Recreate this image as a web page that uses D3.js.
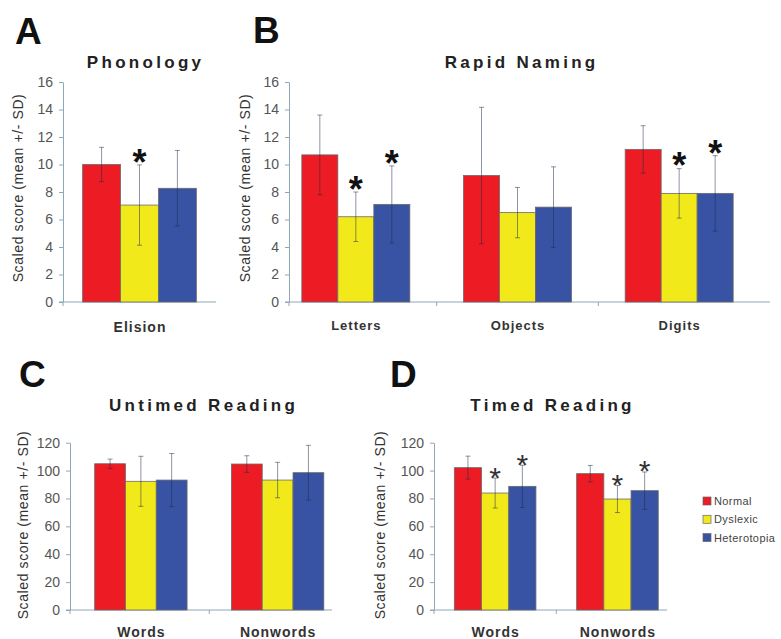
<!DOCTYPE html>
<html>
<head>
<meta charset="utf-8">
<script src="https://cdn.jsdelivr.net/npm/d3@7"></script>
<style>
  body { margin: 0; background: #fff; }
  svg { display: block; font-family: "Liberation Sans", Arial, sans-serif; }
</style>
</head>
<body>
<script>
// groups (legend)
const groups = ["Normal", "Dyslexic", "Heterotopia"];

// A - Phonology
const phonologyCats = ["Elision"];
const phonologyMeans = [[10.0, 7.05, 8.27]];
const phonologySD = [[1.25, 2.92, 2.75]];
const phonologySig = [[false, true, false]];

// B - Rapid Naming
const namingCats = ["Letters", "Objects", "Digits"];
const namingMeans = [[10.7, 6.2, 7.1], [9.2, 6.5, 6.9], [11.1, 7.9, 7.9]];
const namingSD = [[2.9, 1.8, 2.8], [4.96, 1.83, 2.93], [1.72, 1.8, 2.74]];
const namingSig = [[false, true, true], [false, false, false], [false, true, true]];

// C - Untimed Reading
const untimedCats = ["Words", "Nonwords"];
const untimedMeans = [[104.9, 92.3, 93.2], [104.7, 93.2, 98.5]];
const untimedSD = [[3.35, 17.95, 19.05], [5.95, 12.7, 19.6]];
const untimedSig = [[false, false, false], [false, false, false]];

// D - Timed Reading
const timedCats = ["Words", "Nonwords"];
const timedMeans = [[102.1, 83.9, 88.7], [97.8, 79.6, 85.6]];
const timedSD = [[8.25, 10.75, 15.15], [5.9, 9.7, 13.4]];
const timedSig = [[false, true, true], [false, true, true]];

const ticks16 = [0, 2, 4, 6, 8, 10, 12, 14, 16];
const ticks120 = [0, 20, 40, 60, 80, 100, 120];

const colors = ["#ed1c24", "#f2e91b", "#3953a4"];
const axisColor = "#8fa8b8";
const yTitle = "Scaled score (mean +/- SD)";

const svg = d3.select("body").append("svg")
    .attr("width", 781).attr("height", 639);

function drawPanel(p) {
    const g = svg.append("g");

    const y = d3.scaleLinear().domain([0, p.yMax]).range([p.y0, p.y1]);
    const x = d3.scaleBand().domain(p.cats).range(p.band).padding(0);
    const gx = d3.scaleBand().domain(groups)
        .range([-1.5 * p.barW, 1.5 * p.barW]).padding(0);

    // panel letter + title
    g.append("text").attr("x", p.letter[0]).attr("y", p.letter[1])
        .attr("font-size", 37).attr("font-weight", "bold").attr("fill", "#111")
        .text(p.letterText);
    g.append("text").attr("x", p.title[0] + 1.6).attr("y", p.title[1])
        .attr("text-anchor", "middle").attr("font-size", 17).attr("font-weight", "bold")
        .attr("letter-spacing", 3.3).attr("fill", "#222")
        .text(p.titleText);

    // y title
    g.append("text")
        .attr("transform", `translate(${p.yt[0]},${p.yt[1]}) rotate(-90)`)
        .attr("text-anchor", "middle").attr("font-size", 14)
        .attr("letter-spacing", 0.6).attr("fill", "#333")
        .text(yTitle);

    // y axis
    const yAxis = d3.axisLeft(y).tickValues(p.ticks).tickSize(4).tickPadding(6)
        .tickSizeOuter(0);
    const ya = g.append("g").attr("transform", `translate(${p.yAxisX},0)`).call(yAxis);
    ya.select(".domain").attr("stroke", axisColor);
    ya.selectAll(".tick line").attr("stroke", axisColor);
    ya.selectAll(".tick text").attr("font-size", 14).attr("fill", "#555")
        .attr("font-family", "Liberation Sans, Arial, sans-serif");
    // small stub below zero
    g.append("line").attr("x1", p.yAxisX).attr("x2", p.yAxisX)
        .attr("y1", p.y0).attr("y2", p.y0 + 4).attr("stroke", axisColor);

    // x axis line + category ticks
    g.append("line").attr("x1", p.yAxisX - 4).attr("x2", p.xEnd)
        .attr("y1", p.y0).attr("y2", p.y0).attr("stroke", axisColor);
    g.selectAll("line.xt").data(p.cats.slice(1)).join("line")
        .attr("class", "xt")
        .attr("x1", d => x(d)).attr("x2", d => x(d))
        .attr("y1", p.y0).attr("y2", p.y0 + 4).attr("stroke", axisColor);

    // category labels
    g.selectAll("text.cat").data(p.cats).join("text")
        .attr("class", "cat")
        .attr("x", d => x(d) + x.bandwidth() / 2 + 0.5)
        .attr("y", p.catY)
        .attr("text-anchor", "middle").attr("font-size", p.catSize)
        .attr("font-weight", "bold").attr("letter-spacing", 1).attr("fill", "#333")
        .text(d => d);

    // bars
    const rows = [];
    p.cats.forEach((c, i) => groups.forEach((gr, j) => rows.push({
        cat: c, grp: gr, j: j, v: p.means[i][j], sd: p.sd[i][j], sig: p.sig[i][j]
    })));

    const cx = d => x(d.cat) + x.bandwidth() / 2;
    g.selectAll("rect.bar").data(rows).join("rect")
        .attr("class", "bar")
        .attr("x", d => cx(d) + gx(d.grp))
        .attr("y", d => y(d.v))
        .attr("width", gx.bandwidth())
        .attr("height", d => y(0) - y(d.v))
        .attr("fill", d => colors[d.j])
        .attr("stroke", "#6a6a6a").attr("stroke-width", 0.8);

    // error bars
    const eb = g.selectAll("g.err").data(rows).join("g").attr("class", "err")
        .attr("stroke", "#1c2b45").attr("stroke-opacity", 0.5).attr("stroke-width", 1);
    const mid = d => cx(d) + gx(d.grp) + gx.bandwidth() / 2;
    eb.append("line")
        .attr("x1", mid).attr("x2", mid)
        .attr("y1", d => y(d.v + d.sd)).attr("y2", d => y(d.v - d.sd));
    eb.append("line")
        .attr("x1", d => mid(d) - 2.5).attr("x2", d => mid(d) + 2.5)
        .attr("y1", d => y(d.v + d.sd)).attr("y2", d => y(d.v + d.sd));
    eb.append("line")
        .attr("x1", d => mid(d) - 2.5).attr("x2", d => mid(d) + 2.5)
        .attr("y1", d => y(d.v - d.sd)).attr("y2", d => y(d.v - d.sd));

    // significance asterisks
    g.selectAll("text.sig").data(rows.filter(d => d.sig)).join("text")
        .attr("class", "sig")
        .attr("x", mid)
        .attr("y", d => y(d.v + d.sd) - p.starGap + p.starSize * 0.55)
        .attr("text-anchor", "middle").attr("font-size", p.starSize)
        .attr("font-weight", p.starBold ? "bold" : "normal")
        .attr("fill", p.starColor)
        .text("*");
}

drawPanel({
    letterText: "A", letter: [15, 44], titleText: "Phonology", title: [144, 68],
    yt: [23, 188], cats: phonologyCats, means: phonologyMeans, sd: phonologySD, sig: phonologySig,
    yMax: 16, ticks: ticks16, y0: 302, y1: 82, yAxisX: 63, band: [63, 216], xEnd: 216,
    barW: 37.9, catY: 332, catSize: 14, starGap: 10, starSize: 36, starBold: true, starColor: "#111"
});
drawPanel({
    letterText: "B", letter: [253, 43], titleText: "Rapid Naming", title: [520, 68],
    yt: [250, 188], cats: namingCats, means: namingMeans, sd: namingSD, sig: namingSig,
    yMax: 16, ticks: ticks16, y0: 302, y1: 82, yAxisX: 289, band: [275, 760], xEnd: 770,
    barW: 36, catY: 330, catSize: 13, starGap: 10, starSize: 36, starBold: true, starColor: "#111"
});
drawPanel({
    letterText: "C", letter: [19, 387], titleText: "Untimed Reading", title: [202, 411],
    yt: [28, 525], cats: untimedCats, means: untimedMeans, sd: untimedSD, sig: untimedSig,
    yMax: 120, ticks: ticks120, y0: 610, y1: 442.7, yAxisX: 70, band: [72.5, 346], xEnd: 332,
    barW: 30.8, catY: 637, catSize: 14, starGap: 7, starSize: 30, starBold: false, starColor: "#333"
});
drawPanel({
    letterText: "D", letter: [390, 387], titleText: "Timed Reading", title: [551, 411],
    yt: [385, 525], cats: timedCats, means: timedMeans, sd: timedSD, sig: timedSig,
    yMax: 120, ticks: ticks120, y0: 610, y1: 442.7, yAxisX: 434, band: [434, 678.6], xEnd: 667,
    barW: 27.2, catY: 637, catSize: 14, starGap: 7, starSize: 30, starBold: false, starColor: "#333"
});

// legend
const leg = svg.append("g").attr("transform", "translate(703,501)");
const li = leg.selectAll("g").data(groups).join("g")
    .attr("transform", (d, i) => `translate(0,${i * 18.3})`);
li.append("rect").attr("x", 0).attr("y", -4).attr("width", 8).attr("height", 8)
    .attr("fill", (d, i) => colors[i]).attr("stroke", "#666").attr("stroke-width", 0.7);
li.append("text").attr("x", 11).attr("y", 4).attr("font-size", 11)
    .attr("letter-spacing", 0.4).attr("fill", "#444").text(d => d);
</script>
</body>
</html>
